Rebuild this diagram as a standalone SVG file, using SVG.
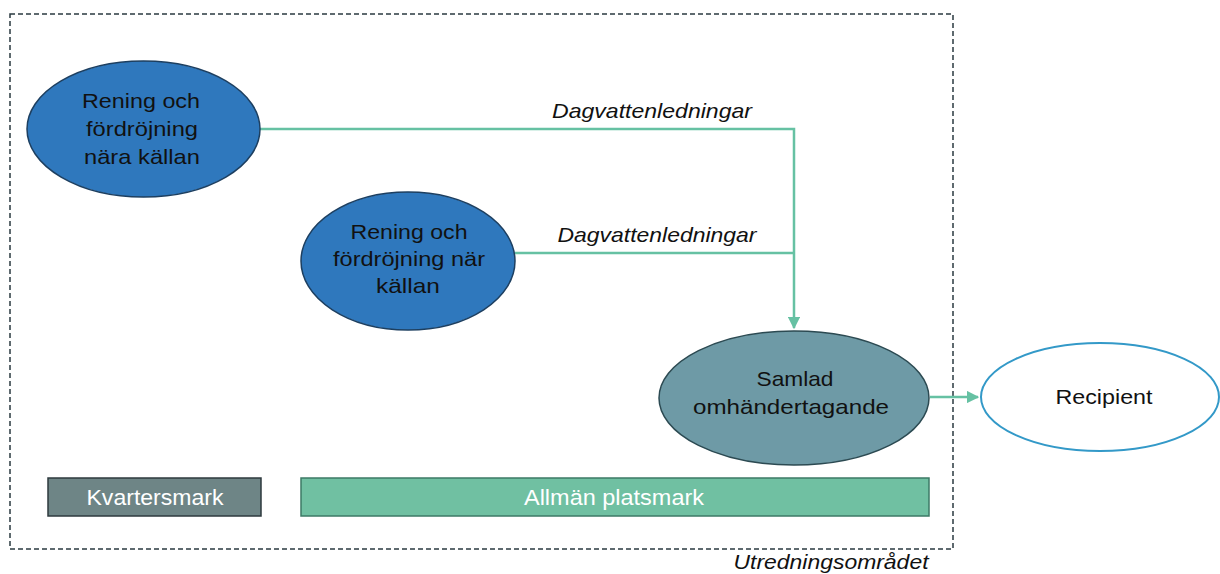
<svg xmlns="http://www.w3.org/2000/svg" width="1220" height="574" viewBox="0 0 1220 574">
<defs>
<style>
.t{font-family:"Liberation Sans",Arial,sans-serif;font-size:21px;fill:#111;text-anchor:middle}
.it{font-family:"Liberation Sans",Arial,sans-serif;font-size:21px;font-style:italic;fill:#111;text-anchor:middle}
.bl{fill:#2f78bd;stroke:#1d3f60;stroke-width:1.5}
.cn{fill:none;stroke:#66c1a3;stroke-width:2.5}
.bt{font-family:"Liberation Sans",Arial,sans-serif;font-size:22px;fill:#fff;text-anchor:middle}
</style>
<marker id="ah" viewBox="0 0 10 10" refX="9" refY="5" markerWidth="5" markerHeight="5" orient="auto" markerUnits="strokeWidth">
<path d="M0,0 L10,5 L0,10 z" fill="#66c1a3"/>
</marker>
</defs>
<rect width="1220" height="574" fill="#fff"/>
<g id="area">
<rect x="10" y="14" width="943" height="535" fill="none" stroke="#2a3a40" stroke-width="1.5" stroke-dasharray="5,3"/>
<text class="it" x="831" y="569" textLength="195" lengthAdjust="spacingAndGlyphs">Utredningsområdet</text>
</g>
<g id="connectors">
<polyline class="cn" points="260,129 794,129 794,328" marker-end="url(#ah)"/>
<polyline class="cn" points="515,253 794,253"/>
<line class="cn" x1="930" y1="397" x2="978" y2="397" marker-end="url(#ah)"/>
<text class="it" x="652" y="118" textLength="200" lengthAdjust="spacingAndGlyphs">Dagvattenledningar</text>
<text class="it" x="657" y="242" textLength="199" lengthAdjust="spacingAndGlyphs">Dagvattenledningar</text>
</g>
<g id="n1">
<ellipse class="bl" cx="143.5" cy="129" rx="116.5" ry="68"/>
<text class="t" x="141" y="108" textLength="118" lengthAdjust="spacingAndGlyphs">Rening och</text>
<text class="t" x="142" y="136" textLength="112" lengthAdjust="spacingAndGlyphs">fördröjning</text>
<text class="t" x="142" y="164" textLength="116" lengthAdjust="spacingAndGlyphs">nära källan</text>
</g>
<g id="n2">
<ellipse class="bl" cx="408" cy="261" rx="107" ry="69"/>
<text class="t" x="409" y="239" textLength="117" lengthAdjust="spacingAndGlyphs">Rening och</text>
<text class="t" x="409" y="266" textLength="152" lengthAdjust="spacingAndGlyphs">fördröjning när</text>
<text class="t" x="408" y="293" textLength="64" lengthAdjust="spacingAndGlyphs">källan</text>
</g>
<g id="n3">
<ellipse cx="794" cy="398" rx="135" ry="67" fill="#6e9aa6" stroke="#2c4a52" stroke-width="1.5"/>
<text class="t" x="795" y="386" textLength="77" lengthAdjust="spacingAndGlyphs">Samlad</text>
<text class="t" x="791" y="414" textLength="196" lengthAdjust="spacingAndGlyphs">omhändertagande</text>
</g>
<g id="n4">
<ellipse cx="1100" cy="397" rx="119" ry="54" fill="#fff" stroke="#3399c8" stroke-width="2"/>
<text class="t" x="1104" y="404" textLength="97" lengthAdjust="spacingAndGlyphs">Recipient</text>
</g>
<g id="kvarter">
<rect x="48" y="478" width="213" height="38" fill="#6e8586" stroke="#2e3a3e" stroke-width="1.5"/>
<text class="bt" x="155" y="505" textLength="137" lengthAdjust="spacingAndGlyphs">Kvartersmark</text>
</g>
<g id="allman">
<rect x="301" y="478" width="628" height="38" fill="#70c0a2" stroke="#3d7a66" stroke-width="1.5"/>
<text class="bt" x="614" y="505" textLength="180" lengthAdjust="spacingAndGlyphs">Allmän platsmark</text>
</g>
</svg>
